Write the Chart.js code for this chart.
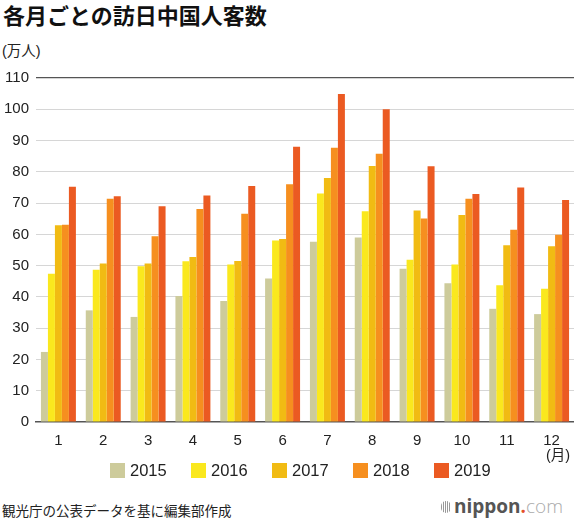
<!DOCTYPE html>
<html lang="ja">
<head>
<meta charset="utf-8">
<script src="https://cdn.jsdelivr.net/npm/chart.js@4.4.1/dist/chart.umd.min.js"></script>
<style>
  html, body { margin: 0; padding: 0; background: #fff; }
  body { width: 574px; height: 522px; position: relative; overflow: hidden; font-family: "Liberation Sans", Arial, "Noto Sans CJK JP", sans-serif; color: #222; }
  .jp { font-family: "Liberation Sans", "Noto Sans CJK JP", sans-serif; }
  #title { position: absolute; left: 3px; top: 3px; font-size: 22px; font-weight: bold; line-height: 1; color: #111; font-family: "Noto Sans CJK JP", sans-serif; }
  #unit { position: absolute; left: 2px; top: 44px; font-size: 14.5px; line-height: 1; white-space: nowrap; }
  #wrap { position: absolute; left: 0; top: 62px; width: 574px; height: 388px; }
  #month { position: absolute; left: 546px; top: 448px; font-size: 14.5px; line-height: 1; white-space: nowrap; }
  #legend { position: absolute; left: 110px; top: 462px; display: flex; }
  #legend .item { width: 81px; display: flex; align-items: center; font-size: 16.5px; line-height: 1; }
  #legend .box { width: 15px; height: 15px; margin-right: 5px; }
  #source { position: absolute; left: 2px; top: 504px; font-size: 13.5px; line-height: 1; font-family: "Noto Sans CJK JP", sans-serif; }
  #logo { position: absolute; left: 441px; top: 497px; font-size: 19px; line-height: 1; display: flex; align-items: center; font-family: "Open Sans", "DejaVu Sans", sans-serif; }
  #logo .ico { width: 10px; height: 12px; margin-right: 3px; background: repeating-linear-gradient(90deg, #999 0 1px, #fff 1px 2px); border-radius: 5px; }
  #logo .n { font-weight: bold; color: #555; }
  #logo .d { color: #e4502a; font-weight: bold; }
  #logo .c { color: #aaa; font-weight: 300; }
</style>
</head>
<body>
<div id="title">各月ごとの訪日中国人客数</div>
<div id="unit" class="jp">(万人)</div>
<div id="wrap"><canvas id="c"></canvas></div>
<div id="month" class="jp">(月)</div>
<div id="legend"></div>
<div id="source">観光庁の公表データを基に編集部作成</div>
<div id="logo"><span class="ico"></span><span class="n">nippon</span><span class="d">.</span><span class="c">com</span></div>
<script>
  var months = ["1", "2", "3", "4", "5", "6", "7", "8", "9", "10", "11", "12"];
  var years = ["2015", "2016", "2017", "2018", "2019"];
  var colors = ["#cdcb9b", "#fae81e", "#f1bb13", "#f68f1f", "#eb5a22"];
  var v2015 = [22.4, 35.7, 33.6, 40.3, 38.7, 45.9, 57.6, 59.0, 49.0, 44.4, 36.2, 34.5];
  var v2016 = [47.4, 48.7, 49.8, 51.4, 50.4, 58.0, 73.1, 67.4, 51.9, 50.4, 43.7, 42.6];
  var v2017 = [62.9, 50.7, 50.7, 52.8, 51.5, 58.5, 78.0, 81.9, 67.6, 66.2, 56.5, 56.2];
  var v2018 = [63.1, 71.4, 59.4, 68.1, 66.6, 76.0, 87.7, 85.8, 65.1, 71.4, 61.5, 59.9];
  var v2019 = [75.2, 72.2, 69.0, 72.4, 75.5, 88.0, 104.9, 100.0, 81.8, 72.9, 75.0, 71.0];
  var series = [v2015, v2016, v2017, v2018, v2019];
  var yMax = 110, yStep = 10;

  var lg = document.getElementById("legend");
  years.forEach(function (y, i) {
    var it = document.createElement("div"); it.className = "item";
    var b = document.createElement("span"); b.className = "box"; b.style.background = colors[i];
    var t = document.createElement("span"); t.textContent = y;
    it.appendChild(b); it.appendChild(t); lg.appendChild(it);
  });

  var tickFont = { family: "'Liberation Sans', Arial, sans-serif", size: 15 };

  new Chart(document.getElementById("c"), {
    type: "bar",
    data: {
      labels: months,
      datasets: years.map(function (y, i) {
        return { label: y, data: series[i], backgroundColor: colors[i], borderWidth: 0, categoryPercentage: 0.78, barPercentage: 1.0 };
      })
    },
    options: {
      responsive: true, maintainAspectRatio: false, animation: false,
      layout: { padding: { top: 7, left: 0, right: 0, bottom: 0 } },
      plugins: { legend: { display: false }, tooltip: { enabled: false } },
      scales: {
        x: {
          grid: { display: false },
          border: { color: "#555", width: 1.5 },
          ticks: { color: "#222", font: tickFont, padding: 2, maxRotation: 0 },
          afterFit: function (s) { s.height = 28; }
        },
        y: {
          min: 0, max: yMax,
          grid: {
            drawTicks: false,
            color: function (ctx) { return ctx.tick && ctx.tick.value === yMax ? "#555" : (ctx.tick && ctx.tick.value === 0 ? "rgba(0,0,0,0)" : "#d6d6d6"); },
            lineWidth: function (ctx) { return ctx.tick && ctx.tick.value === yMax ? 1.3 : 1; }
          },
          border: { display: false },
          ticks: { stepSize: yStep, color: "#222", font: tickFont, padding: 7 },
          afterFit: function (s) { s.width = 36; }
        }
      }
    }
  });
</script>
</body>
</html>
